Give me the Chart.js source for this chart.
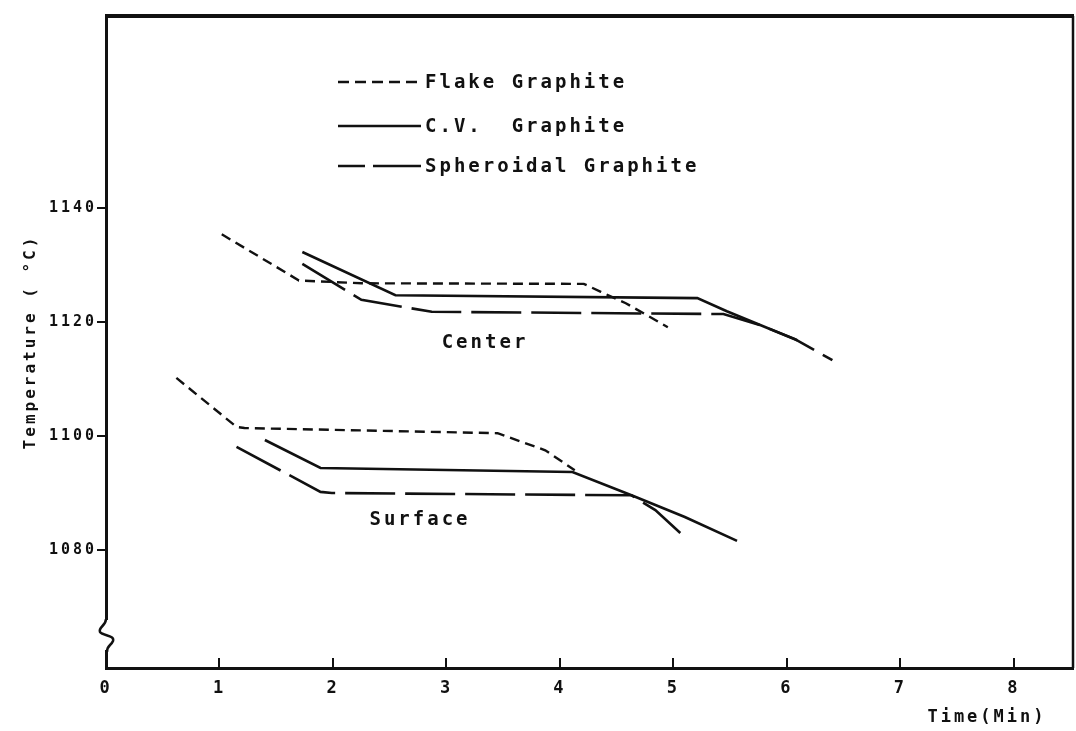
<!DOCTYPE html>
<html lang="en">
<head>
<meta charset="UTF-8">
<title>Cooling curves</title>
<script src="https://cdn.jsdelivr.net/npm/chart.js"></script>
<style>
  html, body { margin: 0; padding: 0; background: #fff; }
  #wrap { width: 1076px; height: 731px; }
</style>
</head>
<body>
<div id="wrap"><canvas id="coolingChart"></canvas></div>
<script>
// time (min) and temperature (deg C)
const flakeCenterTime = [1.02, 1.70, 2.25, 4.21, 4.36, 4.58, 4.95];
const flakeCenterTemp = [1135.4, 1127.3, 1126.8, 1126.7, 1125.3, 1123.3, 1119.1];
const flakeSurfaceTime = [0.62, 1.15, 1.22, 3.45, 3.87, 4.13];
const flakeSurfaceTemp = [1110.2, 1101.6, 1101.4, 1100.5, 1097.5, 1094.0];

const cvCenterTime = [1.73, 2.55, 5.21, 5.47, 6.09];
const cvCenterTemp = [1132.3, 1124.7, 1124.2, 1121.9, 1116.8];
const cvSurfaceTime = [1.40, 1.89, 4.11, 4.63, 5.10, 5.56];
const cvSurfaceTemp = [1099.3, 1094.4, 1093.7, 1089.6, 1085.8, 1081.6];

const sphCenterTime = [1.73, 2.25, 2.87, 5.44, 5.76, 6.07, 6.40];
const sphCenterTemp = [1130.2, 1123.9, 1121.8, 1121.4, 1119.5, 1117.0, 1113.3];
const sphSurfaceTime = [1.15, 1.89, 1.99, 4.63, 4.84, 5.06];
const sphSurfaceTemp = [1098.1, 1090.2, 1090.0, 1089.6, 1087.0, 1083.0];

const timeTicks = [0, 1, 2, 3, 4, 5, 6, 7, 8];
const tempTicks = [1080, 1100, 1120, 1140];

const seriesNames = ['Flake Graphite', 'C.V.  Graphite', 'Spheroidal Graphite'];

const FONT = '"DejaVu Sans Mono", "Liberation Mono", monospace';
const INK = '#111';

function pts(xs, ys) {
    return xs.map((t, i) => ({ x: t, y: ys[i] }));
}

const flakeStyle = { borderDash: [10, 6], borderWidth: 2.4 };
const cvStyle = { borderDash: [], borderWidth: 2.6 };
const sphStyle = { borderDash: [50, 10], borderWidth: 2.6 };
const legendDash = [[11, 6], [], [27, 8, 60, 0]];

function series(label, data, style) {
    return Object.assign({
        label: label,
        data: data,
        borderColor: INK,
        backgroundColor: INK,
        pointRadius: 0,
        tension: 0,
        fill: false
    }, style);
}

// legend, curve labels, frame and axis break
const decorations = {
    id: 'decorations',
    beforeDraw(chart) {
        chart.ctx.letterSpacing = '3px';
    },
    afterDraw(chart) {
        const { ctx, chartArea: a, data } = chart;
        ctx.save();
        ctx.strokeStyle = INK;
        ctx.fillStyle = INK;

        // top and right edges of the frame
        ctx.lineWidth = 4;
        ctx.beginPath();
        ctx.moveTo(a.left - 1, a.top);
        ctx.lineTo(a.right + 1, a.top);
        ctx.stroke();
        ctx.lineWidth = 2.5;
        ctx.beginPath();
        ctx.moveTo(a.right, a.top);
        ctx.lineTo(a.right, a.bottom);
        ctx.stroke();

        // break mark on the temperature axis
        const bx = a.left, by = a.bottom - 42;
        ctx.fillStyle = '#fff';
        ctx.fillRect(bx - 3, by - 6, 6, 30);
        ctx.fillStyle = INK;
        ctx.lineWidth = 2.5;
        ctx.beginPath();
        ctx.moveTo(bx, by - 7);
        ctx.bezierCurveTo(bx, by, bx - 8, by + 1, bx - 6, by + 6);
        ctx.bezierCurveTo(bx - 3, by + 10, bx + 9, by + 9, bx + 7, by + 15);
        ctx.bezierCurveTo(bx + 5, by + 20, bx + 1, by + 19, bx + 1, by + 26);
        ctx.stroke();

        // legend
        ctx.font = 'bold 19px ' + FONT;
        ctx.letterSpacing = '3px';
        ctx.textBaseline = 'middle';
        ctx.textAlign = 'left';
        const rows = [82, 126, 166];
        [0, 2, 4].forEach((dsIndex, i) => {
            const ds = data.datasets[dsIndex];
            ctx.lineWidth = ds.borderWidth;
            ctx.setLineDash(legendDash[i]);
            ctx.beginPath();
            ctx.moveTo(338, rows[i]);
            ctx.lineTo(421, rows[i]);
            ctx.stroke();
            ctx.setLineDash([]);
            ctx.fillText(seriesNames[i], 425, rows[i] + 1);
        });

        // curve group labels
        ctx.textAlign = 'center';
        ctx.fillText('Center', 485, 343);
        ctx.fillText('Surface', 420, 520);

        ctx.restore();
    }
};

const ctx = document.getElementById('coolingChart').getContext('2d');
new Chart(ctx, {
    type: 'line',
    data: {
        datasets: [
            series(seriesNames[0] + ' center', pts(flakeCenterTime, flakeCenterTemp), flakeStyle),
            series(seriesNames[0] + ' surface', pts(flakeSurfaceTime, flakeSurfaceTemp), flakeStyle),
            series(seriesNames[1] + ' center', pts(cvCenterTime, cvCenterTemp), cvStyle),
            series(seriesNames[1] + ' surface', pts(cvSurfaceTime, cvSurfaceTemp), cvStyle),
            series(seriesNames[2] + ' center', pts(sphCenterTime, sphCenterTemp), sphStyle),
            series(seriesNames[2] + ' surface', pts(sphSurfaceTime, sphSurfaceTemp), sphStyle)
        ]
    },
    options: {
        responsive: true,
        maintainAspectRatio: false,
        devicePixelRatio: 1,
        animation: false,
        layout: { padding: { top: 16, right: 3, bottom: 0, left: 0 } },
        plugins: {
            legend: { display: false },
            tooltip: { enabled: false }
        },
        scales: {
            x: {
                type: 'linear',
                min: 0,
                max: 8.52,
                afterBuildTicks: (scale) => { scale.ticks = timeTicks.map(v => ({ value: v })); },
                afterFit: (scale) => { scale.height = 63; },
                grid: { drawOnChartArea: false, drawTicks: true, tickLength: -10, color: INK, lineWidth: 2 },
                border: { display: true, color: INK, width: 3 },
                ticks: {
                    color: INK,
                    padding: 20,
                    maxRotation: 0,
                    callback: (v) => String(v),
                    font: { family: FONT, size: 17, weight: 'bold' }
                },
                title: {
                    display: true,
                    text: 'Time(Min)  ',
                    align: 'end',
                    color: INK,
                    padding: { top: 0, bottom: 3 },
                    font: { family: FONT, size: 17, weight: 'bold' }
                }
            },
            y: {
                type: 'linear',
                min: 1059.3,
                max: 1173.7,
                afterBuildTicks: (scale) => { scale.ticks = tempTicks.map(v => ({ value: v })); },
                afterFit: (scale) => { scale.width = 106; },
                grid: { drawOnChartArea: false, drawTicks: true, tickLength: 9, color: INK, lineWidth: 2 },
                border: { display: true, color: INK, width: 3 },
                ticks: {
                    color: INK,
                    padding: 0,
                    callback: (v) => String(v),
                    font: { family: FONT, size: 15, weight: 'bold' }
                },
                title: {
                    display: true,
                    text: 'Temperature ( \u00b0C)',
                    color: INK,
                    padding: { top: 21, bottom: 0 },
                    font: { family: FONT, size: 16, weight: 'bold' }
                }
            }
        }
    },
    plugins: [decorations]
});
</script>
</body>
</html>
